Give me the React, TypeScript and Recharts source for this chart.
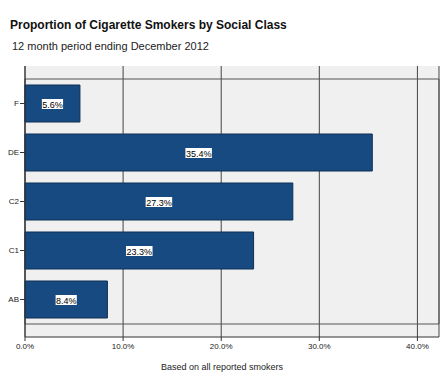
import { Bar, BarChart, CartesianGrid, LabelList, ReferenceArea, XAxis, YAxis } from 'recharts';

const classes = ['F', 'DE', 'C2', 'C1', 'AB'];
const shares = [5.6, 35.4, 27.3, 23.3, 8.4];
const xTicks = [0, 10, 20, 30, 40];

const data = classes.map((name, i) => ({ name, value: shares[i] }));

const FONT = 'Arial, "Liberation Sans", sans-serif';

function ValueTag(props: any) {
  const { x, y, width, height, value } = props;
  const text = `${Number(value).toFixed(1)}%`;
  const cx = x + width / 2;
  const cy = y + height / 2;
  const w = text.length * 5.3;
  return (
    <g>
      <rect x={cx - w / 2} y={cy - 4.5} width={w} height={10} fill="#ffffff" />
      <text
        x={cx}
        y={cy + 4}
        textAnchor="middle"
        fontSize={9}
        fontFamily={FONT}
        fill="#000"
      >
        {text}
      </text>
    </g>
  );
}

export default function App() {
  return (
    <div
      style={{
        position: 'absolute',
        left: 0,
        top: 0,
        width: 448,
        height: 387,
        background: '#fff',
        fontFamily: FONT,
      }}
    >
      <div style={{ position: 'absolute', left: 10, top: 18, fontSize: 12, fontWeight: 'bold', color: '#111' }}>
        Proportion of Cigarette Smokers by Social Class
      </div>
      <div style={{ position: 'absolute', left: 12, top: 40, fontSize: 11, color: '#222' }}>
        12 month period ending December 2012
      </div>
      <div style={{ position: 'absolute', left: 161, top: 362, fontSize: 9, color: '#222' }}>
        Based on all reported smokers
      </div>
      <BarChart
        width={448}
        height={387}
        data={data}
        layout="vertical"
        margin={{ top: 66, right: 9, bottom: 30, left: 0 }}
        barCategoryGap={6}
      >
        <CartesianGrid horizontal={false} stroke="#444" fill="#f0f0f0" />
        <XAxis
          type="number"
          domain={[0, 42.2]}
          ticks={xTicks}
          height={20}
          tickFormatter={(v: number) => `${v.toFixed(1)}%`}
          tick={{ fontSize: 8, fill: '#222', fontFamily: FONT }}
          axisLine={{ stroke: '#333' }}
          tickLine={{ stroke: '#333' }}
          tickSize={4}
        />
        <YAxis
          type="category"
          dataKey="name"
          width={25}
          padding={{ top: 13, bottom: 13 }}
          tick={{ fontSize: 8, fill: '#222', fontFamily: FONT }}
          axisLine={{ stroke: '#333' }}
          tickLine={{ stroke: '#333' }}
          tickSize={5}
          tickMargin={1}
        />
        <ReferenceArea x1={0} x2={42.2} fill="none" stroke="#555" strokeWidth={1} />
        <Bar dataKey="value" fill="#174a80" stroke="#0f2f55" strokeWidth={1} isAnimationActive={false}>
          <LabelList dataKey="value" content={ValueTag} />
        </Bar>
      </BarChart>
    </div>
  );
}
